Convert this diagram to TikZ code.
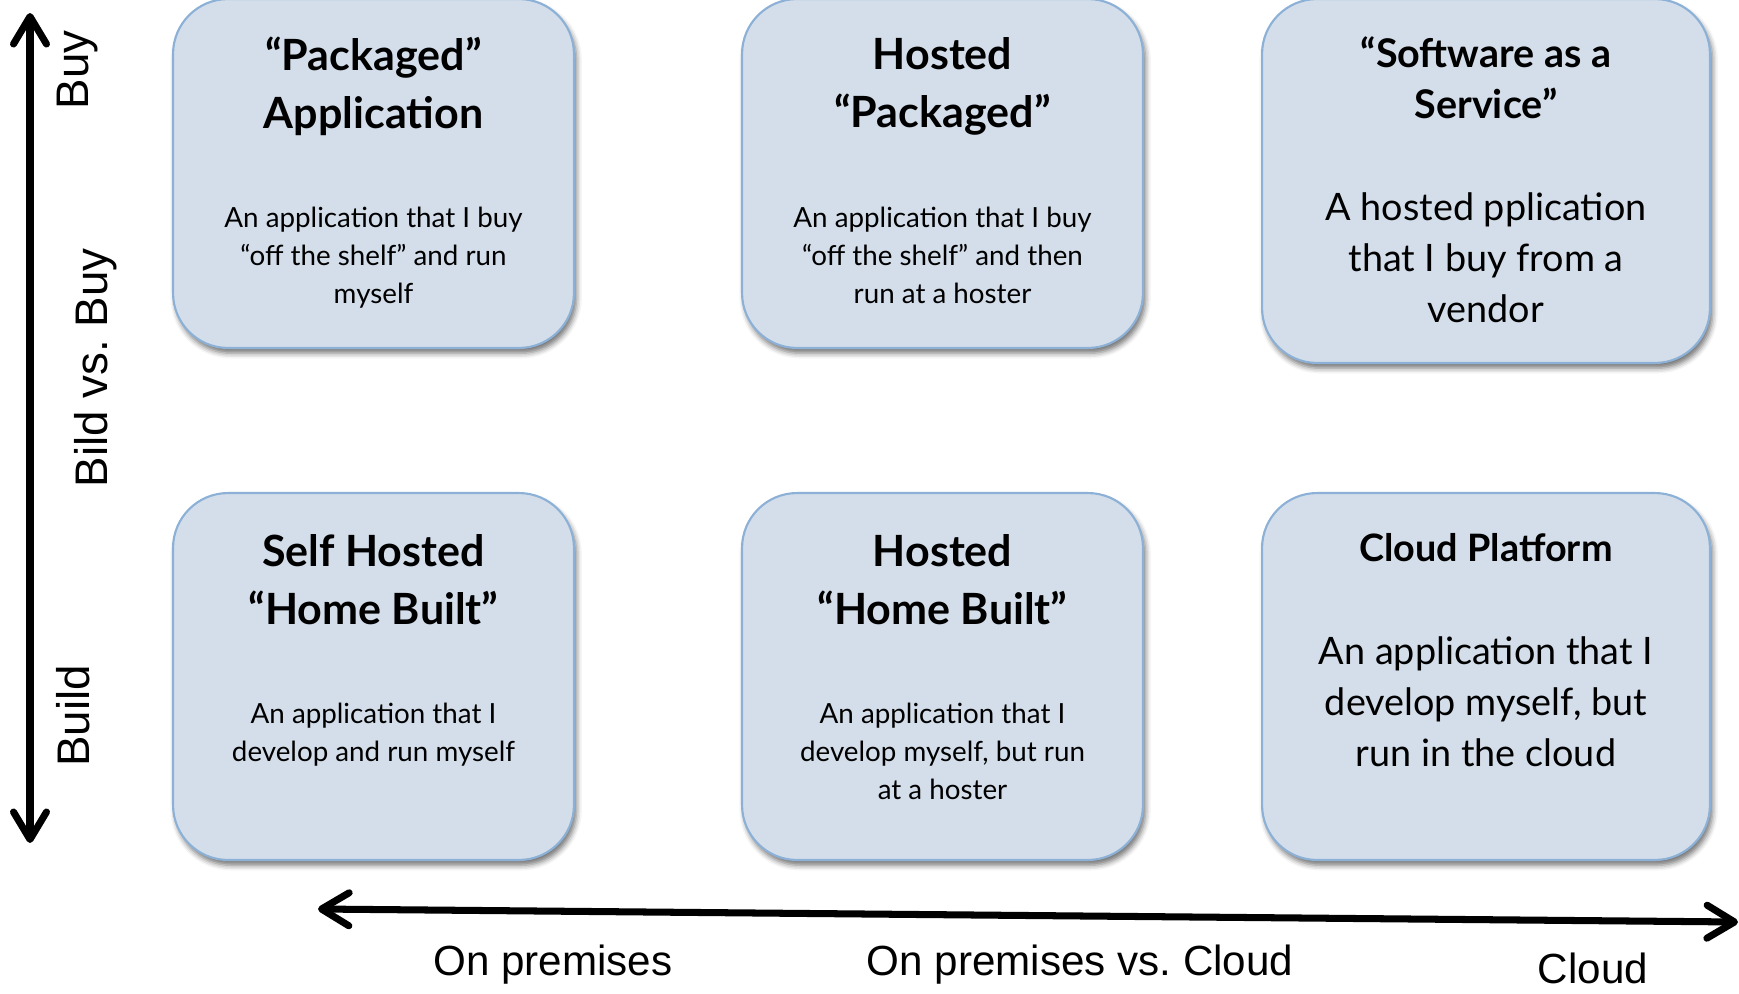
\documentclass[tikz,border=0pt]{standalone}
\usepackage{fontspec}
\setmainfont{Lato}
\newfontfamily\arialfont{Liberation Sans}
\usetikzlibrary{arrows.meta,shadows.blur}
\definecolor{boxfill}{RGB}{211,222,234}
\definecolor{boxline}{RGB}{140,176,214}
\frenchspacing

\begin{document}
\begin{tikzpicture}[x=0.02cm,y=-0.02cm,
  box/.style={draw=boxline,line width=1.2pt,fill=boxfill,rounded corners=1.1cm,
    blur shadow={shadow xshift=1.5pt,shadow yshift=-3pt,shadow blur radius=3pt,shadow opacity=55},
    minimum width=8.02cm},
  head/.style={align=center,font=\fontsize{24.5pt}{33pt}\selectfont\bfseries},
  desc/.style={align=center,font=\fontsize{15.8pt}{21.6pt}\selectfont},
  axisline/.style={line width=4pt,
    {Straight Barb[length=5.5mm,width=6.6mm,round]}-{Straight Barb[length=5.5mm,width=6.6mm,round]}},
  axislabel/.style={font=\arialfont\fontsize{24pt}{28pt}\selectfont}]
\useasboundingbox (0,0) rectangle (1739,994);

\node[box,minimum height=6.98cm] (pkg) at (373.5,173.5) {};
\node[box,minimum height=6.98cm] (hpkg) at (942.5,173.5) {};
\node[box,minimum width=8.96cm,minimum height=7.28cm] (saas) at (1486,181) {};
\node[box,minimum height=7.34cm] (self) at (373.5,676.5) {};
\node[box,minimum height=7.34cm] (hhome) at (942.5,676.5) {};
\node[box,minimum width=8.96cm,minimum height=7.34cm] (cloud) at (1486,676.5) {};

\node[head] (pkgT) at (373.5,86) {“Packaged”\\Application};
\node[desc] (pkgD) at (373.5,258) {An application that I buy\\“off the shelf” and run\\myself};
\node[head] (hpkgT) at (942.5,86) {Hosted\\“Packaged”};
\node[desc] (hpkgD) at (942.5,255) {An application that I buy\\“off the shelf” and then\\run at a hoster};
\node[head,font=\fontsize{22.5pt}{29pt}\selectfont\bfseries] (saasT) at (1486,78) {“Software as a\\Service”};
\node[desc,font=\fontsize{21.5pt}{29pt}\selectfont] (saasD) at (1486,258) {A hosted pplication\\that I buy from a\\vendor};
\node[head] (selfT) at (373.5,580) {Self Hosted\\“Home Built”};
\node[desc] (selfD) at (373.5,735) {An application that I\\develop and run myself};
\node[head] (hhomeT) at (942.5,580) {Hosted\\“Home Built”};
\node[desc] (hhomeD) at (942.5,751) {An application that I\\develop myself, but run\\at a hoster};
\node[head,font=\fontsize{21.5pt}{29pt}\selectfont\bfseries] (cloudT) at (1486,548) {Cloud Platform};
\node[desc,font=\fontsize{21.5pt}{29pt}\selectfont] (cloudD) at (1486,702) {An application that I\\develop myself, but\\run in the cloud};

\coordinate (buyend) at (30,13);
\coordinate (buildend) at (30,843);
\draw[axisline] (buildend) -- (buyend);
\node[axislabel,font=\arialfont\fontsize{26pt}{30pt}\selectfont,rotate=90,anchor=base] (buy) at (88,70) {Buy};
\node[axislabel,font=\arialfont\fontsize{26pt}{30pt}\selectfont,rotate=90,anchor=base] (bvb) at (107,368) {Bild vs. Buy};
\node[axislabel,font=\arialfont\fontsize{26pt}{30pt}\selectfont,rotate=90,anchor=base] (build) at (89,716) {Build};

\coordinate (premend) at (318,909);
\coordinate (cloudend) at (1738,922);
\draw[axisline] (premend) -- (cloudend);
\node[axislabel,anchor=base] (onprem) at (553,975) {On premises};
\node[axislabel,anchor=base] (onvscloud) at (1080,975) {On premises vs. Cloud};
\node[axislabel,anchor=base] (cloudlbl) at (1593,983) {Cloud};
\end{tikzpicture}
\end{document}
